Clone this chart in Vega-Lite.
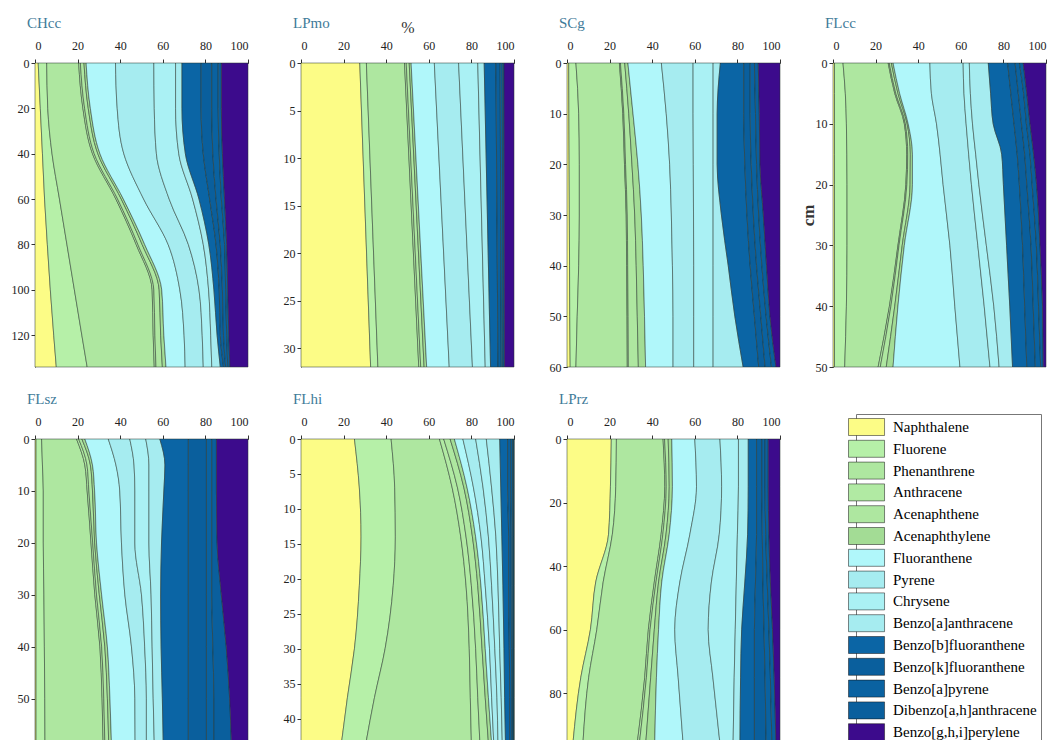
{
  "$schema": "https://vega.github.io/schema/vega-lite/v6.json",
  "autosize": {"type": "pad"},
  "padding": {"left": 11, "top": 16, "right": 0, "bottom": 0},
  "background": "white",
  "datasets": {
    "cmp": [
      {"key": "a", "ord": 1, "name": "Naphthalene"},
      {"key": "b", "ord": 2, "name": "Fluorene"},
      {"key": "c", "ord": 3, "name": "Phenanthrene"},
      {"key": "d", "ord": 4, "name": "Anthracene"},
      {"key": "e", "ord": 5, "name": "Acenaphthene"},
      {"key": "f", "ord": 6, "name": "Acenaphthylene"},
      {"key": "g", "ord": 7, "name": "Fluoranthene"},
      {"key": "h", "ord": 8, "name": "Pyrene"},
      {"key": "i", "ord": 9, "name": "Chrysene"},
      {"key": "j", "ord": 10, "name": "Benzo[a]anthracene"},
      {"key": "k", "ord": 11, "name": "Benzo[b]fluoranthene"},
      {"key": "l", "ord": 12, "name": "Benzo[k]fluoranthene"},
      {"key": "m", "ord": 13, "name": "Benzo[a]pyrene"},
      {"key": "n", "ord": 14, "name": "Dibenzo[a,h]anthracene"},
      {"key": "o", "ord": 15, "name": "Benzo[g,h,i]perylene"}
    ],
    "rows": [
      {"site": "CHcc", "depth": 0, "a": 1.5, "b": 4, "c": 15, "d": 0.8, "e": 1.7, "f": 1, "g": 13.8, "h": 18, "i": 10.2, "j": 3, "k": 9, "l": 5, "m": 3, "n": 1.5, "o": 12.5},
      {"site": "CHcc", "depth": 20, "a": 2.5, "b": 3.5, "c": 16.5, "d": 0.8, "e": 1.7, "f": 1, "g": 12.6, "h": 17.4, "i": 10, "j": 3, "k": 9, "l": 5, "m": 3, "n": 1.5, "o": 12.5},
      {"site": "CHcc", "depth": 40, "a": 3.5, "b": 4.5, "c": 19, "d": 0.8, "e": 1.7, "f": 1, "g": 11.2, "h": 15.3, "i": 10.5, "j": 3.1, "k": 8.4, "l": 4.5, "m": 3, "n": 1.5, "o": 12},
      {"site": "CHcc", "depth": 60, "a": 4.5, "b": 7, "c": 26.5, "d": 0.8, "e": 1.7, "f": 1, "g": 9.5, "h": 12, "i": 11, "j": 3, "k": 5, "l": 3, "m": 2.5, "n": 1.5, "o": 11},
      {"site": "CHcc", "depth": 80, "a": 5.8, "b": 9.2, "c": 32.5, "d": 0.8, "e": 2, "f": 1.2, "g": 11, "h": 9.5, "i": 7, "j": 2.6, "k": 3.4, "l": 2, "m": 2, "n": 1, "o": 10},
      {"site": "CHcc", "depth": 100, "a": 7.2, "b": 11.3, "c": 36.5, "d": 0.8, "e": 2.5, "f": 1.2, "g": 8.5, "h": 9, "i": 4.5, "j": 2.5, "k": 2.5, "l": 1.5, "m": 1.5, "n": 1, "o": 9.5},
      {"site": "CHcc", "depth": 120, "a": 8.8, "b": 13.2, "c": 33.5, "d": 0.8, "e": 2.7, "f": 1.5, "g": 9.5, "h": 8.5, "i": 4, "j": 3, "k": 1.5, "l": 1.5, "m": 1.5, "n": 1, "o": 9},
      {"site": "CHcc", "depth": 134, "a": 10, "b": 14.5, "c": 31.5, "d": 0.8, "e": 3, "f": 1.7, "g": 9, "h": 8.5, "i": 4, "j": 4, "k": 1.5, "l": 1, "m": 1, "n": 1, "o": 8.5},

      {"site": "LPmo", "depth": 0, "a": 27.6, "b": 3.1, "c": 17.9, "d": 0.8, "e": 1.4, "f": 0.9, "g": 10.9, "h": 11.4, "i": 9, "j": 3, "k": 5.5, "l": 2, "m": 1, "n": 0.8, "o": 4.7},
      {"site": "LPmo", "depth": 16, "a": 30.15, "b": 3.25, "c": 18.55, "d": 0.85, "e": 1.5, "f": 1.05, "g": 10.75, "h": 11.15, "i": 7.5, "j": 2.75, "k": 4.5, "l": 1.75, "m": 0.9, "n": 0.75, "o": 4.6},
      {"site": "LPmo", "depth": 32, "a": 32.7, "b": 3.4, "c": 19.2, "d": 0.9, "e": 1.6, "f": 1.2, "g": 10.6, "h": 10.9, "i": 6, "j": 2.5, "k": 3.5, "l": 1.5, "m": 0.8, "n": 0.7, "o": 4.5},

      {"site": "SCg", "depth": 0, "a": 0.8, "b": 3.4, "c": 20.4, "d": 0.5, "e": 2, "f": 1.5, "g": 15.7, "h": 14.9, "i": 9.4, "j": 3.4, "k": 11, "l": 3, "m": 2, "n": 1.8, "o": 10.2},
      {"site": "SCg", "depth": 10, "a": 0.9, "b": 4.6, "c": 20.7, "d": 0.5, "e": 2.3, "f": 2, "g": 15.6, "h": 12.6, "i": 9.4, "j": 1.9, "k": 12.5, "l": 3, "m": 2.5, "n": 1.8, "o": 9.7},
      {"site": "SCg", "depth": 20, "a": 1, "b": 4.8, "c": 21.2, "d": 0.5, "e": 3, "f": 2.8, "g": 14.9, "h": 11.1, "i": 9.3, "j": 1.9, "k": 13, "l": 3, "m": 2.5, "n": 1.6, "o": 9.4},
      {"site": "SCg", "depth": 30, "a": 1.1, "b": 4.7, "c": 22, "d": 0.5, "e": 3.5, "f": 3.1, "g": 14.1, "h": 10.4, "i": 9.2, "j": 3.9, "k": 12, "l": 3, "m": 2.5, "n": 2.2, "o": 7.8},
      {"site": "SCg", "depth": 40, "a": 1.2, "b": 4.3, "c": 22.5, "d": 0.5, "e": 4, "f": 3.3, "g": 13.7, "h": 10, "i": 9.1, "j": 7.1, "k": 10.3, "l": 3, "m": 2.5, "n": 2.2, "o": 6.3},
      {"site": "SCg", "depth": 50, "a": 1.3, "b": 3.5, "c": 23.4, "d": 0.5, "e": 4.3, "f": 3.4, "g": 13.4, "h": 9.7, "i": 9.1, "j": 10.2, "k": 9.2, "l": 3, "m": 2.5, "n": 1.8, "o": 4.7},
      {"site": "SCg", "depth": 60, "a": 1.5, "b": 2.7, "c": 24.1, "d": 0.5, "e": 4.7, "f": 3.4, "g": 12.9, "h": 9.7, "i": 9.1, "j": 14.1, "k": 7.3, "l": 3, "m": 3, "n": 2.1, "o": 1.9},

      {"site": "FLcc", "depth": 0, "a": 0.7, "b": 4, "c": 21.2, "d": 0.5, "e": 1, "f": 0.8, "g": 17.3, "h": 15.6, "i": 2.9, "j": 8.9, "k": 9.1, "l": 3.5, "m": 2, "n": 1.8, "o": 10.7},
      {"site": "FLcc", "depth": 5, "a": 0.7, "b": 5.1, "c": 23.2, "d": 0.5, "e": 1, "f": 0.8, "g": 14.9, "h": 15.3, "i": 3, "j": 9.5, "k": 9.5, "l": 3.5, "m": 2.5, "n": 1.5, "o": 9},
      {"site": "FLcc", "depth": 10, "a": 0.7, "b": 5.6, "c": 27.2, "d": 0.5, "e": 0.8, "f": 0.5, "g": 13.3, "h": 13.9, "i": 3, "j": 9.7, "k": 9.8, "l": 3.5, "m": 2.3, "n": 1.7, "o": 7.5},
      {"site": "FLcc", "depth": 15, "a": 0.7, "b": 5.8, "c": 28.1, "d": 0.5, "e": 1.2, "f": 1, "g": 13, "h": 13.4, "i": 3.3, "j": 12.2, "k": 7.3, "l": 3.5, "m": 2.5, "n": 1.7, "o": 5.8},
      {"site": "FLcc", "depth": 20, "a": 0.7, "b": 5.9, "c": 27.6, "d": 0.5, "e": 1.5, "f": 1.1, "g": 14.4, "h": 13.3, "i": 3.5, "j": 11.5, "k": 7.5, "l": 3.5, "m": 2.5, "n": 2.1, "o": 4.4},
      {"site": "FLcc", "depth": 30, "a": 0.7, "b": 5.9, "c": 23.9, "d": 0.5, "e": 1.5, "f": 1, "g": 21.4, "h": 13.1, "i": 4, "j": 9.5, "k": 7.5, "l": 4, "m": 2.5, "n": 1.7, "o": 2.8},
      {"site": "FLcc", "depth": 40, "a": 0.7, "b": 5.6, "c": 20.2, "d": 0.7, "e": 1.8, "f": 1.5, "g": 26.7, "h": 13.8, "i": 4.5, "j": 7.5, "k": 7, "l": 4, "m": 2.5, "n": 1.9, "o": 1.6},
      {"site": "FLcc", "depth": 50, "a": 0.7, "b": 4.8, "c": 15.7, "d": 1, "e": 2.8, "f": 3.2, "g": 31.4, "h": 14.1, "i": 4.3, "j": 6.3, "k": 6.7, "l": 4, "m": 2.5, "n": 1.2, "o": 1.3},

      {"site": "FLsz", "depth": 0, "a": 0.5, "b": 2.6, "c": 16.4, "d": 1, "e": 1.5, "f": 1.4, "g": 11, "h": 10.1, "i": 7.5, "j": 6.6, "k": 13.4, "l": 8.5, "m": 2.5, "n": 2.2, "o": 14.8},
      {"site": "FLsz", "depth": 5, "a": 0.5, "b": 3, "c": 19.9, "d": 1, "e": 1.6, "f": 1, "g": 11, "h": 8.5, "i": 7, "j": 7.5, "k": 11, "l": 8.5, "m": 2.5, "n": 2.2, "o": 14.8},
      {"site": "FLsz", "depth": 10, "a": 0.5, "b": 3.4, "c": 20.6, "d": 0.8, "e": 1.7, "f": 1, "g": 11.8, "h": 7.1, "i": 6.6, "j": 7, "k": 11.5, "l": 8.5, "m": 2.5, "n": 2.2, "o": 14.8},
      {"site": "FLsz", "depth": 20, "a": 0.5, "b": 3.4, "c": 22.4, "d": 0.8, "e": 0.9, "f": 0.9, "g": 11.7, "h": 6.3, "i": 6.6, "j": 5.9, "k": 12.6, "l": 8.5, "m": 2.5, "n": 2.5, "o": 14.5},
      {"site": "FLsz", "depth": 30, "a": 0.5, "b": 3.7, "c": 23.9, "d": 0.8, "e": 1.3, "f": 1.1, "g": 10.9, "h": 7.8, "i": 4.5, "j": 4.5, "k": 13, "l": 8.5, "m": 2.5, "n": 4.5, "o": 12.5},
      {"site": "FLsz", "depth": 40, "a": 0.5, "b": 3.9, "c": 26.1, "d": 0.8, "e": 1.5, "f": 1.2, "g": 11.3, "h": 6.2, "i": 3.5, "j": 4.2, "k": 12.8, "l": 8.5, "m": 3, "n": 6.3, "o": 10.2},
      {"site": "FLsz", "depth": 50, "a": 0.5, "b": 4.1, "c": 26.9, "d": 0.8, "e": 1.7, "f": 1.2, "g": 11.7, "h": 5.4, "i": 3.2, "j": 4.3, "k": 12.2, "l": 8.5, "m": 3.5, "n": 7.4, "o": 8.6},
      {"site": "FLsz", "depth": 58.5, "a": 0.5, "b": 4.2, "c": 27.3, "d": 0.8, "e": 1.8, "f": 1.3, "g": 11.1, "h": 5.3, "i": 3.7, "j": 4.2, "k": 11.8, "l": 8.5, "m": 3.5, "n": 8.2, "o": 7.8},

      {"site": "FLhi", "depth": 0, "a": 25.1, "b": 17.2, "c": 22.7, "d": 2, "e": 3, "f": 2, "g": 4, "h": 6, "i": 5, "j": 6.3, "k": 3.7, "l": 1.5, "m": 0.8, "n": 0.7, "o": 0},
      {"site": "FLhi", "depth": 7, "a": 27.4, "b": 16.6, "c": 27, "d": 2.5, "e": 3, "f": 1.5, "g": 3, "h": 4.5, "i": 4, "j": 4.3, "k": 3.2, "l": 1.5, "m": 0.8, "n": 0.7, "o": 0},
      {"site": "FLhi", "depth": 14, "a": 28.2, "b": 16.1, "c": 30.7, "d": 2.5, "e": 3, "f": 1.5, "g": 2.5, "h": 3.5, "i": 3.5, "j": 2.8, "k": 3.2, "l": 1.2, "m": 0.7, "n": 0.6, "o": 0},
      {"site": "FLhi", "depth": 21, "a": 27.4, "b": 15.9, "c": 34.2, "d": 2.5, "e": 3, "f": 1.5, "g": 2, "h": 3, "i": 3, "j": 2.3, "k": 2.7, "l": 1.2, "m": 0.7, "n": 0.6, "o": 0},
      {"site": "FLhi", "depth": 30, "a": 25.1, "b": 14.4, "c": 39.5, "d": 3, "e": 3, "f": 1.5, "g": 2, "h": 2.5, "i": 2.3, "j": 2, "k": 2.5, "l": 1, "m": 0.7, "n": 0.5, "o": 0},
      {"site": "FLhi", "depth": 37, "a": 21.8, "b": 12.7, "c": 45, "d": 3.5, "e": 3.5, "f": 1.5, "g": 1.5, "h": 2.5, "i": 2, "j": 1.6, "k": 2.4, "l": 1, "m": 0.5, "n": 0.5, "o": 0},
      {"site": "FLhi", "depth": 43.5, "a": 19, "b": 11.5, "c": 49.5, "d": 4, "e": 4, "f": 1.5, "g": 1, "h": 2, "i": 2, "j": 1.5, "k": 2, "l": 1, "m": 0.6, "n": 0.4, "o": 0},

      {"site": "LPrz", "depth": 0, "a": 20.8, "b": 2.4, "c": 21.9, "d": 0.7, "e": 1.7, "f": 1.7, "g": 10.8, "h": 11.8, "i": 8.7, "j": 4.6, "k": 3.9, "l": 2.5, "m": 1.5, "n": 1.5, "o": 5.5},
      {"site": "LPrz", "depth": 15, "a": 20.4, "b": 2.5, "c": 23, "d": 0.7, "e": 1.4, "f": 1.5, "g": 11.3, "h": 11.8, "i": 7.9, "j": 4.6, "k": 3.9, "l": 2.5, "m": 1.5, "n": 1.5, "o": 5.5},
      {"site": "LPrz", "depth": 30, "a": 19.5, "b": 1.8, "c": 22.9, "d": 0.8, "e": 1.5, "f": 1.5, "g": 9.7, "h": 13.8, "i": 8.5, "j": 4.8, "k": 4.2, "l": 2.7, "m": 1.6, "n": 1.5, "o": 5.2},
      {"site": "LPrz", "depth": 45, "a": 13.5, "b": 3.5, "c": 24, "d": 0.8, "e": 1.2, "f": 1.5, "g": 8.5, "h": 14.8, "i": 11.7, "j": 4, "k": 5, "l": 3.5, "m": 2, "n": 1.5, "o": 4.5},
      {"site": "LPrz", "depth": 60, "a": 11, "b": 3, "c": 24.2, "d": 0.8, "e": 2, "f": 2, "g": 7.6, "h": 15.7, "i": 12.7, "j": 3, "k": 6, "l": 4.5, "m": 2.3, "n": 1.7, "o": 3.5},
      {"site": "LPrz", "depth": 75, "a": 6.5, "b": 3.7, "c": 26.3, "d": 0.8, "e": 2, "f": 2.7, "g": 10.2, "h": 16.3, "i": 10, "j": 3, "k": 6.5, "l": 5, "m": 2.5, "n": 1.8, "o": 2.7},
      {"site": "LPrz", "depth": 95.7, "a": 2.8, "b": 4.7, "c": 25.5, "d": 1, "e": 3, "f": 4.2, "g": 13.3, "h": 17.3, "i": 6.2, "j": 3.2, "k": 6.8, "l": 5.5, "m": 2.7, "n": 1.9, "o": 1.9}
    ]
  },
  "data": {"name": "rows"},
  "transform": [
    {"fold": ["a", "b", "c", "d", "e", "f", "g", "h", "i", "j", "k", "l", "m", "n", "o"], "as": ["key", "val"]},
    {"lookup": "key", "from": {"data": {"name": "cmp"}, "key": "key", "fields": ["name", "ord"]}}
  ],
  "columns": 4,
  "spacing": {"row": 72, "column": 53},
  "bounds": "flush",
  "resolve": {"scale": {"color": "shared"}, "legend": {"color": "shared"}},
  "concat": [
    {
      "title": "CHcc", "width": 213, "height": 304,
      "transform": [{"filter": "datum.site === 'CHcc'"}],
      "mark": "area",
      "encoding": {
        "y": {"field": "depth", "type": "quantitative", "scale": {"domain": [0, 134], "reverse": true, "nice": false, "zero": false}, "axis": {"values": [0, 20, 40, 60, 80, 100, 120], "title": null}},
        "x": {"field": "val", "type": "quantitative", "stack": "zero", "scale": {"domain": [0, 100], "nice": false}, "axis": {"orient": "top", "values": [0, 20, 40, 60, 80, 100], "title": "%", "titleColor": "transparent"}},
        "color": {"field": "name", "type": "nominal", "scale": {"domain": ["Naphthalene", "Fluorene", "Phenanthrene", "Anthracene", "Acenaphthene", "Acenaphthylene", "Fluoranthene", "Pyrene", "Chrysene", "Benzo[a]anthracene", "Benzo[b]fluoranthene", "Benzo[k]fluoranthene", "Benzo[a]pyrene", "Dibenzo[a,h]anthracene", "Benzo[g,h,i]perylene"], "range": ["#fcfc86", "#b6f0a8", "#aee7a0", "#b1eaa3", "#aee7a0", "#a3dc95", "#b0f7fa", "#a6ecf0", "#aaf1f4", "#a6ecf0", "#0b65a5", "#0a5f9d", "#0a62a1", "#0a5f9d", "#3c0b8c"]}, "legend": {"orient": "none", "legendX": 821, "legendY": 351, "title": null}},
        "order": {"field": "ord", "type": "quantitative"}
      }
    },
    {
      "title": "LPmo", "width": 213, "height": 304,
      "transform": [{"filter": "datum.site === 'LPmo'"}],
      "mark": "area",
      "encoding": {
        "y": {"field": "depth", "type": "quantitative", "scale": {"domain": [0, 32], "reverse": true, "nice": false, "zero": false}, "axis": {"values": [0, 5, 10, 15, 20, 25, 30], "title": null}},
        "x": {"field": "val", "type": "quantitative", "stack": "zero", "scale": {"domain": [0, 100], "nice": false}, "axis": {"orient": "top", "values": [0, 20, 40, 60, 80, 100], "title": "%", "titleColor": "#333333"}},
        "color": {"field": "name", "type": "nominal", "scale": {"domain": ["Naphthalene", "Fluorene", "Phenanthrene", "Anthracene", "Acenaphthene", "Acenaphthylene", "Fluoranthene", "Pyrene", "Chrysene", "Benzo[a]anthracene", "Benzo[b]fluoranthene", "Benzo[k]fluoranthene", "Benzo[a]pyrene", "Dibenzo[a,h]anthracene", "Benzo[g,h,i]perylene"], "range": ["#fcfc86", "#b6f0a8", "#aee7a0", "#b1eaa3", "#aee7a0", "#a3dc95", "#b0f7fa", "#a6ecf0", "#aaf1f4", "#a6ecf0", "#0b65a5", "#0a5f9d", "#0a62a1", "#0a5f9d", "#3c0b8c"]}, "legend": {"orient": "none", "legendX": 821, "legendY": 351, "title": null}},
        "order": {"field": "ord", "type": "quantitative"}
      }
    },
    {
      "title": "SCg", "width": 213, "height": 304,
      "transform": [{"filter": "datum.site === 'SCg'"}],
      "mark": "area",
      "encoding": {
        "y": {"field": "depth", "type": "quantitative", "scale": {"domain": [0, 60], "reverse": true, "nice": false, "zero": false}, "axis": {"values": [0, 10, 20, 30, 40, 50, 60], "title": null}},
        "x": {"field": "val", "type": "quantitative", "stack": "zero", "scale": {"domain": [0, 100], "nice": false}, "axis": {"orient": "top", "values": [0, 20, 40, 60, 80, 100], "title": "%", "titleColor": "transparent"}},
        "color": {"field": "name", "type": "nominal", "scale": {"domain": ["Naphthalene", "Fluorene", "Phenanthrene", "Anthracene", "Acenaphthene", "Acenaphthylene", "Fluoranthene", "Pyrene", "Chrysene", "Benzo[a]anthracene", "Benzo[b]fluoranthene", "Benzo[k]fluoranthene", "Benzo[a]pyrene", "Dibenzo[a,h]anthracene", "Benzo[g,h,i]perylene"], "range": ["#fcfc86", "#b6f0a8", "#aee7a0", "#b1eaa3", "#aee7a0", "#a3dc95", "#b0f7fa", "#a6ecf0", "#aaf1f4", "#a6ecf0", "#0b65a5", "#0a5f9d", "#0a62a1", "#0a5f9d", "#3c0b8c"]}, "legend": {"orient": "none", "legendX": 821, "legendY": 351, "title": null}},
        "order": {"field": "ord", "type": "quantitative"}
      }
    },
    {
      "title": "FLcc", "width": 213, "height": 304,
      "transform": [{"filter": "datum.site === 'FLcc'"}],
      "mark": "area",
      "encoding": {
        "y": {"field": "depth", "type": "quantitative", "scale": {"domain": [0, 50], "reverse": true, "nice": false, "zero": false}, "axis": {"values": [0, 10, 20, 30, 40, 50], "title": "cm", "titleFontSize": 17, "titleFontWeight": "bold", "titleColor": "#333333", "titlePadding": -2}},
        "x": {"field": "val", "type": "quantitative", "stack": "zero", "scale": {"domain": [0, 100], "nice": false}, "axis": {"orient": "top", "values": [0, 20, 40, 60, 80, 100], "title": "%", "titleColor": "transparent"}},
        "color": {"field": "name", "type": "nominal", "scale": {"domain": ["Naphthalene", "Fluorene", "Phenanthrene", "Anthracene", "Acenaphthene", "Acenaphthylene", "Fluoranthene", "Pyrene", "Chrysene", "Benzo[a]anthracene", "Benzo[b]fluoranthene", "Benzo[k]fluoranthene", "Benzo[a]pyrene", "Dibenzo[a,h]anthracene", "Benzo[g,h,i]perylene"], "range": ["#fcfc86", "#b6f0a8", "#aee7a0", "#b1eaa3", "#aee7a0", "#a3dc95", "#b0f7fa", "#a6ecf0", "#aaf1f4", "#a6ecf0", "#0b65a5", "#0a5f9d", "#0a62a1", "#0a5f9d", "#3c0b8c"]}, "legend": {"orient": "none", "legendX": 821, "legendY": 351, "title": null}},
        "order": {"field": "ord", "type": "quantitative"}
      }
    },
    {
      "title": "FLsz", "width": 213, "height": 304,
      "transform": [{"filter": "datum.site === 'FLsz'"}],
      "mark": "area",
      "encoding": {
        "y": {"field": "depth", "type": "quantitative", "scale": {"domain": [0, 58.5], "reverse": true, "nice": false, "zero": false}, "axis": {"values": [0, 10, 20, 30, 40, 50], "title": null}},
        "x": {"field": "val", "type": "quantitative", "stack": "zero", "scale": {"domain": [0, 100], "nice": false}, "axis": {"orient": "top", "values": [0, 20, 40, 60, 80, 100], "title": "%", "titleColor": "transparent"}},
        "color": {"field": "name", "type": "nominal", "scale": {"domain": ["Naphthalene", "Fluorene", "Phenanthrene", "Anthracene", "Acenaphthene", "Acenaphthylene", "Fluoranthene", "Pyrene", "Chrysene", "Benzo[a]anthracene", "Benzo[b]fluoranthene", "Benzo[k]fluoranthene", "Benzo[a]pyrene", "Dibenzo[a,h]anthracene", "Benzo[g,h,i]perylene"], "range": ["#fcfc86", "#b6f0a8", "#aee7a0", "#b1eaa3", "#aee7a0", "#a3dc95", "#b0f7fa", "#a6ecf0", "#aaf1f4", "#a6ecf0", "#0b65a5", "#0a5f9d", "#0a62a1", "#0a5f9d", "#3c0b8c"]}, "legend": {"orient": "none", "legendX": 821, "legendY": 351, "title": null}},
        "order": {"field": "ord", "type": "quantitative"}
      }
    },
    {
      "title": "FLhi", "width": 213, "height": 304,
      "transform": [{"filter": "datum.site === 'FLhi'"}],
      "mark": "area",
      "encoding": {
        "y": {"field": "depth", "type": "quantitative", "scale": {"domain": [0, 43.5], "reverse": true, "nice": false, "zero": false}, "axis": {"values": [0, 5, 10, 15, 20, 25, 30, 35, 40], "title": null}},
        "x": {"field": "val", "type": "quantitative", "stack": "zero", "scale": {"domain": [0, 100], "nice": false}, "axis": {"orient": "top", "values": [0, 20, 40, 60, 80, 100], "title": "%", "titleColor": "transparent"}},
        "color": {"field": "name", "type": "nominal", "scale": {"domain": ["Naphthalene", "Fluorene", "Phenanthrene", "Anthracene", "Acenaphthene", "Acenaphthylene", "Fluoranthene", "Pyrene", "Chrysene", "Benzo[a]anthracene", "Benzo[b]fluoranthene", "Benzo[k]fluoranthene", "Benzo[a]pyrene", "Dibenzo[a,h]anthracene", "Benzo[g,h,i]perylene"], "range": ["#fcfc86", "#b6f0a8", "#aee7a0", "#b1eaa3", "#aee7a0", "#a3dc95", "#b0f7fa", "#a6ecf0", "#aaf1f4", "#a6ecf0", "#0b65a5", "#0a5f9d", "#0a62a1", "#0a5f9d", "#3c0b8c"]}, "legend": {"orient": "none", "legendX": 821, "legendY": 351, "title": null}},
        "order": {"field": "ord", "type": "quantitative"}
      }
    },
    {
      "title": "LPrz", "width": 213, "height": 304,
      "transform": [{"filter": "datum.site === 'LPrz'"}],
      "mark": "area",
      "encoding": {
        "y": {"field": "depth", "type": "quantitative", "scale": {"domain": [0, 95.7], "reverse": true, "nice": false, "zero": false}, "axis": {"values": [0, 20, 40, 60, 80], "title": null}},
        "x": {"field": "val", "type": "quantitative", "stack": "zero", "scale": {"domain": [0, 100], "nice": false}, "axis": {"orient": "top", "values": [0, 20, 40, 60, 80, 100], "title": "%", "titleColor": "transparent"}},
        "color": {"field": "name", "type": "nominal", "scale": {"domain": ["Naphthalene", "Fluorene", "Phenanthrene", "Anthracene", "Acenaphthene", "Acenaphthylene", "Fluoranthene", "Pyrene", "Chrysene", "Benzo[a]anthracene", "Benzo[b]fluoranthene", "Benzo[k]fluoranthene", "Benzo[a]pyrene", "Dibenzo[a,h]anthracene", "Benzo[g,h,i]perylene"], "range": ["#fcfc86", "#b6f0a8", "#aee7a0", "#b1eaa3", "#aee7a0", "#a3dc95", "#b0f7fa", "#a6ecf0", "#aaf1f4", "#a6ecf0", "#0b65a5", "#0a5f9d", "#0a62a1", "#0a5f9d", "#3c0b8c"]}, "legend": {"orient": "none", "legendX": 821, "legendY": 351, "title": null}},
        "order": {"field": "ord", "type": "quantitative"}
      }
    }
  ],
  "config": {
    "view": {"stroke": null},
    "font": "Liberation Serif",
    "area": {"orient": "horizontal", "interpolate": "monotone", "stroke": "#26332c", "strokeWidth": 0.6, "strokeOpacity": 0.85},
    "axis": {"labelFont": "Liberation Serif", "labelFontSize": 12, "labelColor": "#222222", "domainColor": "#333333", "tickColor": "#333333", "tickSize": 4, "labelPadding": 2, "grid": false, "titleFont": "Liberation Serif", "titleFontSize": 16, "titleFontWeight": "normal", "titlePadding": 9, "labelOverlap": false},
    "axisX": {"labelPadding": 7, "titlePadding": 4},
    "title": {"font": "Liberation Serif", "fontSize": 15, "fontWeight": "normal", "color": "#3f7b99", "anchor": "start", "frame": "group", "dx": -8, "offset": -12},
    "legend": {"symbolType": "M-1,-1H3.24V1H-1Z", "symbolSize": 289, "symbolOffset": -12, "symbolStrokeColor": "#111111", "symbolStrokeWidth": 1, "labelFont": "Liberation Serif", "labelFontSize": 15, "labelColor": "#000000", "labelOffset": 27, "labelLimit": 320, "rowPadding": 1.8, "padding": 4, "strokeColor": "#777777", "fillColor": "white", "symbolOpacity": 1}
  }
}
